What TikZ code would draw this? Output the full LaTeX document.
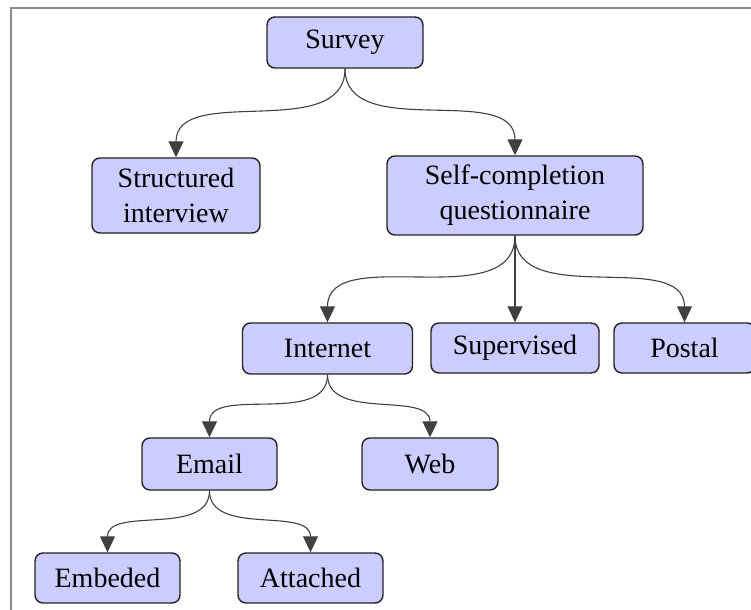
\documentclass[tikz,border=0pt]{standalone}
\usepackage{fontspec}
\setmainfont{Liberation Serif}
\usetikzlibrary{arrows.meta}

\definecolor{boxfill}{RGB}{204,204,255}
\definecolor{boxline}{RGB}{34,34,34}
\definecolor{edgeline}{RGB}{64,64,64}
\definecolor{framegray}{RGB}{140,140,140}

\tikzset{
  box/.style={draw=boxline, fill=boxfill, rounded corners=4pt, line width=0.7pt,
    inner sep=0pt, align=center, font=\fontsize{14}{17.5}\selectfont},
  edge/.style={draw=edgeline, line width=0.55pt,
    -{Triangle[length=8pt,width=7.5pt]}},
  curved/.style={edge, out=-90, in=90}
}

\begin{document}
\begin{tikzpicture}[x=0.5pt, y=-0.5pt]
  \useasboundingbox (0,0) rectangle (751,610);
  \clip (0,0) rectangle (751,610);
  \draw[framegray, line width=1pt] (11,8) rectangle (780,640);

  % survey methods tree
  \node[box, minimum width=78pt,   minimum height=25.5pt] (survey)     at (345,42.5)  {Survey};
  \node[box, minimum width=84pt,   minimum height=37.5pt] (struct)     at (176,195.5) {Structured\\interview};
  \node[box, minimum width=128pt,  minimum height=39.5pt] (selfc)      at (515,195.5) {Self-completion\\questionnaire};
  \node[box, minimum width=85pt,   minimum height=25.5pt] (internet)   at (327.5,348.5) {Internet};
  \node[box, minimum width=84pt,   minimum height=25pt]   (supervised) at (515,348)   {Supervised};
  \node[box, minimum width=70.5pt, minimum height=25pt]   (postal)     at (684.5,348) {Postal};
  \node[box, minimum width=67.5pt, minimum height=26pt]   (email)      at (209.5,464) {Email};
  \node[box, minimum width=68pt,   minimum height=26pt]   (web)        at (430,464)   {Web};
  \node[box, minimum width=72.5pt, minimum height=25pt]   (embeded)    at (107.5,578) {Embeded};
  \node[box, minimum width=72.5pt, minimum height=25pt]   (attached)   at (310.5,578) {Attached};

  % connectors
  \draw[edge] (survey.south) to[curved] (struct.north);
  \draw[edge] (survey.south) to[curved] (selfc.north);
  \draw[edge] (selfc.south) to[curved] (internet.north);
  \draw[edge] (selfc.south) -- (supervised.north);
  \draw[edge] (selfc.south) to[curved] (postal.north);
  \draw[edge] (internet.south) to[curved] (email.north);
  \draw[edge] (internet.south) to[curved] (web.north);
  \draw[edge] (email.south) to[curved] (embeded.north);
  \draw[edge] (email.south) to[curved] (attached.north);
\end{tikzpicture}
\end{document}
